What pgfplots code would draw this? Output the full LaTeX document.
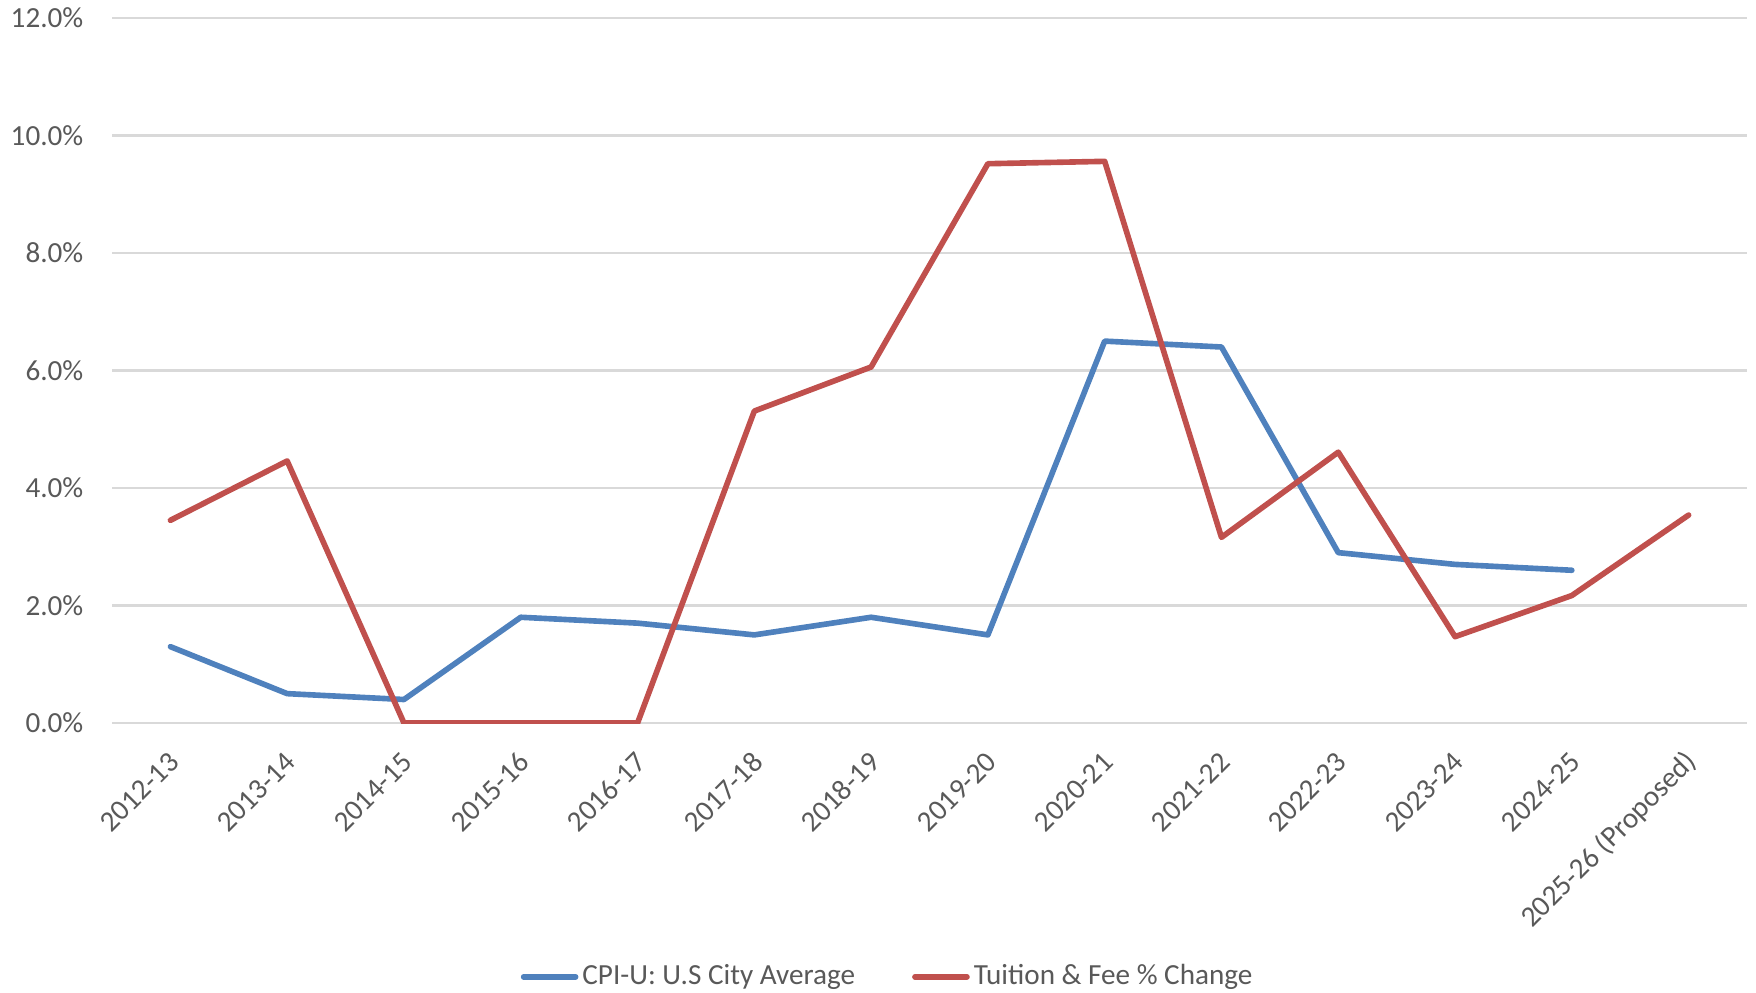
\documentclass[border=0pt]{standalone}
\usepackage{pgfplots}
\pgfplotsset{compat=1.18}
\usepackage{fontspec}
\setmainfont{Carlito}
\definecolor{cpiblue}{HTML}{4F81BD}
\definecolor{tuitred}{HTML}{C0504D}
\definecolor{txtgray}{HTML}{595959}
\definecolor{gridgray}{HTML}{D9D9D9}
\begin{document}
\begin{tikzpicture}
\begin{axis}[
  at={(0,0)}, anchor=south west,
  scale only axis,
  width=16.35cm, height=7.05cm,
  xmin=-0.5, xmax=13.5,
  ymin=0, ymax=12,
  axis line style={draw=none},
  major tick length=0pt,
  ymajorgrids,
  grid style={gridgray, line width=0.6pt},
  xtick={0,...,13},
  xticklabels={2012-13,2013-14,2014-15,2015-16,2016-17,2017-18,2018-19,2019-20,2020-21,2021-22,2022-23,2023-24,2024-25,2025-26 (Proposed)},
  ytick={0,2,4,6,8,10,12},
  yticklabels={0.0\%,2.0\%,4.0\%,6.0\%,8.0\%,10.0\%,12.0\%},
  tick label style={font=\fontsize{8.3}{10}\selectfont, text=txtgray},
  yticklabel style={anchor=east, inner sep=0pt, xshift=-2.8mm},
  xticklabel style={anchor=east, inner sep=0pt, xshift=0.4mm, yshift=-3.4mm, rotate=45},
  legend style={at={(0.475,-0.36)}, anchor=center, draw=none, fill=none,
    font=\fontsize{8.3}{10}\selectfont, text=txtgray,
    nodes={inner xsep=0.4mm},
    /tikz/every even column/.append style={column sep=5.3mm}},
  legend columns=2,
  legend cell align=left,
  legend image code/.code={\draw[#1, line cap=round] (0cm,0cm) -- (0.52cm,0cm);},
]
\addplot[cpiblue, line width=1.6pt, line cap=round, line join=round] coordinates {
(0,1.30) (1,0.50) (2,0.40) (3,1.80) (4,1.70) (5,1.50) (6,1.80) (7,1.50)
(8,6.50) (9,6.40) (10,2.90) (11,2.70) (12,2.60)};
\addlegendentry{CPI-U: U.S City Average}
\addplot[tuitred, line width=1.6pt, line cap=round, line join=round] coordinates {
(0,3.45) (1,4.46) (2,0.00) (3,0.00) (4,0.00) (5,5.31) (6,6.06) (7,9.52)
(8,9.56) (9,3.16) (10,4.61) (11,1.47) (12,2.17) (13,3.54)};
\addlegendentry{Tuition \& Fee \% Change}
\end{axis}
\pgfresetboundingbox
\path[use as bounding box] (-1.12cm,-2.69cm) rectangle (16.44cm,7.23cm);
\end{tikzpicture}
\end{document}
